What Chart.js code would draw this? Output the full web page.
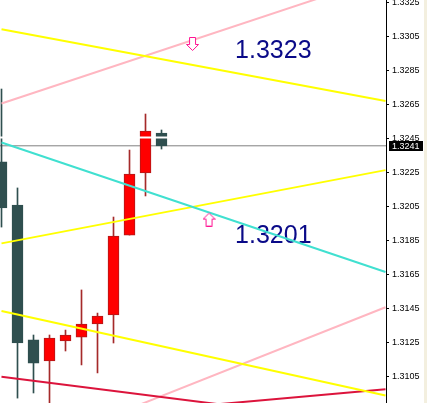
<!DOCTYPE html>
<html><head><meta charset="utf-8">
<script src="https://cdn.jsdelivr.net/npm/chart.js@4.4.1/dist/chart.umd.min.js"></script>
<style>html,body{margin:0;padding:0;background:#fff;overflow:hidden}canvas{display:block}</style>
</head><body>
<canvas id="c" width="427" height="403"></canvas>
<script>
// ---- data ----
const candleIndex = [0, 1, 2, 3, 4, 5, 6, 7, 8, 9, 10];
const openP  = [1.32315, 1.32062, 1.31268, 1.31144, 1.31262, 1.31285, 1.31362, 1.31415, 1.31885, 1.32250, 1.32485];
const highP  = [1.32744, 1.32162, 1.31297, 1.31297, 1.31326, 1.31562, 1.31426, 1.31991, 1.32385, 1.32597, 1.32503];
const lowP   = [1.31932, 1.30926, 1.30956, 1.30890, 1.31203, 1.31121, 1.31074, 1.31250, 1.31885, 1.32115, 1.32391];
const closeP = [1.32044, 1.31250, 1.31132, 1.31279, 1.31297, 1.31362, 1.31409, 1.31879, 1.32244, 1.32497, 1.32409];

const tickLabels = [1.3105, 1.3125, 1.3145, 1.3165, 1.3185, 1.3205, 1.3225, 1.3245, 1.3265, 1.3285, 1.3305, 1.3325];
const currentPrice = 1.3241;
const whiteLevel = 1.32459;

const trendFromIdx = 0, trendToIdx = 24;
const trendStartPrice = [1.33095, 1.32659, 1.32429, 1.31836, 1.31438, 1.31051, 1.30776, 1.30565];
const trendEndPrice   = [1.32673, 1.33408, 1.31668, 1.32267, 1.30941, 1.30766, 1.30978, 1.31460];

const arrowIdx   = [11.94, 12.97];
const arrowPrice = [1.33006, 1.31979];
const arrowDir   = ['down', 'up'];

const noteText  = ['1.3323', '1.3201'];
const noteIdx   = [14.6, 14.6];
const notePrice = [1.32926, 1.31838];

// ---- view / style ----
const X_MIN = -0.09375, X_MAX = 24.03125;
const Y_MAX = 1.3325 + 3 / 17000, Y_MIN = Y_MAX - 403 / 17000;
const trendColor = ['#FFFF00', '#FFB6C1', '#40E0D0', '#FFFF00', '#FFFF00', '#DC143C', '#DC143C', '#FFB6C1'];
const BULL = '#FF0000', BULL_EDGE = '#B01A1A', BULL_WICK = '#A52A2A', BEAR = '#2F4F4F';

function arrowCanvas(dir) {
  const c = document.createElement('canvas');
  c.width = 13; c.height = 15;
  const g = c.getContext('2d');
  g.save();
  if (dir === 'up') { g.translate(0, 15); g.scale(1, -1); }
  g.beginPath();
  g.moveTo(3.5, 0.5); g.lineTo(9.5, 0.5); g.lineTo(9.5, 7.5); g.lineTo(12.5, 7.5);
  g.lineTo(6.5, 13.5); g.lineTo(0.5, 7.5); g.lineTo(3.5, 7.5); g.closePath();
  g.fillStyle = '#fff'; g.fill();
  g.strokeStyle = '#FF1493'; g.lineWidth = 1; g.stroke();
  g.restore();
  return c;
}

const isBull = candleIndex.map(i => closeP[i] >= openP[i]);

const datasets = [];
datasets.push({
  type: 'line', order: 40, clip: 0,
  data: [{x: X_MIN, y: currentPrice}, {x: X_MAX, y: currentPrice}],
  borderColor: '#808080', borderWidth: 1, pointRadius: 0
});
datasets.push({
  type: 'bar', order: 30, grouped: false, barThickness: 1, clip: 0,
  data: candleIndex.map(i => ({x: i, y: [lowP[i], highP[i]]})),
  backgroundColor: candleIndex.map(i => isBull[i] ? BULL_WICK : BEAR),
  borderWidth: 0
});
datasets.push({
  type: 'bar', order: 20, grouped: false, barThickness: 11, clip: 0,
  data: candleIndex.map(i => ({x: i, y: [openP[i], closeP[i]]})),
  backgroundColor: candleIndex.map(i => isBull[i] ? BULL : BEAR),
  borderColor: candleIndex.map(i => isBull[i] ? BULL_EDGE : BEAR),
  borderWidth: 1, borderSkipped: false
});
datasets.push({
  type: 'line', order: 10, clip: 0,
  data: [{x: X_MIN, y: whiteLevel}, {x: X_MAX, y: whiteLevel}],
  borderColor: '#FFFFFF', borderWidth: 2, pointRadius: 0
});
trendStartPrice.forEach((p, k) => {
  datasets.push({
    type: 'line', order: 5, clip: 0,
    data: [{x: trendFromIdx, y: p}, {x: trendToIdx, y: trendEndPrice[k]}],
    borderColor: trendColor[k], borderWidth: 2, pointRadius: 0
  });
});
datasets.push({
  type: 'line', order: 1, clip: 0, showLine: false,
  data: arrowIdx.map((x, k) => ({x, y: arrowPrice[k]})),
  pointStyle: arrowDir.map(d => arrowCanvas(d)),
  pointRadius: 7
});

const notesPlugin = {
  id: 'notes',
  beforeDatasetsDraw(chart) {
    const {ctx, scales: {x, y}} = chart;
    ctx.save();
    ctx.font = '25px "Liberation Sans", Arial, sans-serif';
    ctx.fillStyle = '#0A0A88';
    ctx.textBaseline = 'alphabetic';
    ctx.textAlign = 'left';
    noteText.forEach((t, k) => ctx.fillText(t, x.getPixelForValue(noteIdx[k]), y.getPixelForValue(notePrice[k])));
    ctx.restore();
  },
  afterDraw(chart) {
    const {ctx, chartArea, scales: {y}} = chart;
    ctx.save();
    ctx.fillStyle = '#F3EFDF';
    ctx.fillRect(424, 0, 3, chart.height);
    const py = Math.round(y.getPixelForValue(currentPrice));
    ctx.fillStyle = '#000';
    ctx.fillRect(chartArea.right + 3, py - 5, 34, 10);
    ctx.fillStyle = '#fff';
    ctx.font = '9px "Liberation Sans", Arial, sans-serif';
    ctx.textBaseline = 'middle';
    ctx.textAlign = 'left';
    ctx.fillText(currentPrice.toFixed(4), chartArea.right + 6, py + 0.5);
    ctx.restore();
  }
};

new Chart(document.getElementById('c'), {
  type: 'bar',
  data: {datasets},
  plugins: [notesPlugin],
  options: {
    responsive: false, animation: false, devicePixelRatio: 1,
    layout: {padding: 0, autoPadding: false},
    plugins: {legend: {display: false}, tooltip: {enabled: false}},
    scales: {
      x: {type: 'linear', min: X_MIN, max: X_MAX, display: false, offset: false},
      y: {
        position: 'right', min: Y_MIN, max: Y_MAX,
        afterBuildTicks: s => { s.ticks = tickLabels.map(v => ({value: v})); },
        afterFit: s => { s.width = 41; s.paddingTop = 0; s.paddingBottom = 0; },
        grid: {drawOnChartArea: false, drawTicks: true, tickLength: 3, color: '#000'},
        border: {display: true, color: '#000', width: 1},
        ticks: {autoSkip: false, color: '#000', padding: 3,
                font: {family: '"Liberation Sans", Arial, sans-serif', size: 9},
                callback: v => Number(v).toFixed(4)}
      }
    }
  }
});
</script>
</body></html>
